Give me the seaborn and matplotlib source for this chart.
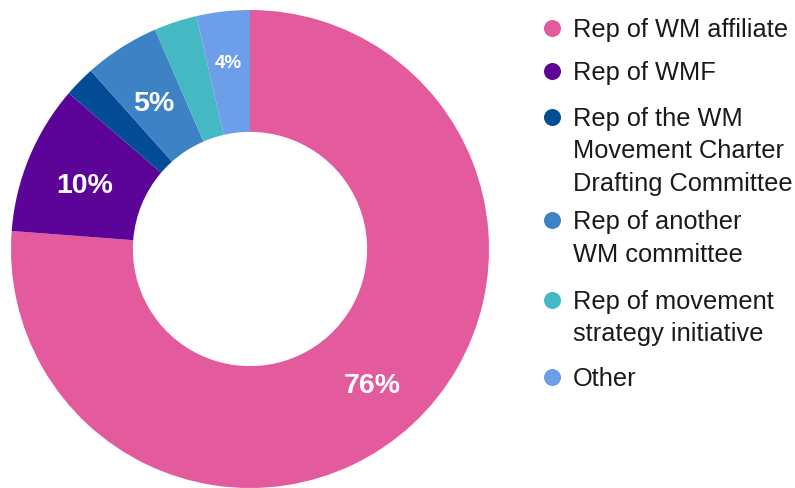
import numpy as np
import matplotlib
matplotlib.use("Agg")
import matplotlib.pyplot as plt
import seaborn as sns

categories = ["Rep of WM affiliate", "Rep of WMF",
              "Rep of the WM\nMovement Charter\nDrafting Committee",
              "Rep of another\nWM committee",
              "Rep of movement\nstrategy initiative", "Other"]
shares = [76.2, 10.1, 2.1, 5.1, 2.9, 3.6]
colors = ["#E35A9D", "#5B0497", "#034C96", "#3E82C6", "#44B9C3", "#6C9EE9"]

sns.set_theme(style="white")
plt.rcParams['font.family'] = ['Liberation Sans', 'DejaVu Sans']

fig = plt.figure(figsize=(7.95, 4.88), dpi=100)
W, H = 795, 488
cx, cy, R = 250, 249, 239
ax = fig.add_axes([(cx - R) / W, (H - cy - R) / H, 2 * R / W, 2 * R / H])

wedges, texts, autotexts = ax.pie(
    shares, colors=colors, startangle=90, counterclock=False,
    radius=1.0, wedgeprops=dict(width=0.51, linewidth=0),
    autopct=lambda p: f"{round(p)}%" if p >= 3.5 else "",
    pctdistance=0.75,
    textprops=dict(color="white", fontweight="bold", fontsize=20.5))
ax.set_xlim(-1, 1)
ax.set_ylim(-1, 1)
ax.set_aspect("equal")
for t in autotexts:
    t.set_va("center_baseline")
    x0, y0 = t.get_position()
    t.set_position((x0, y0 - 0.012))

# smaller "Other" label, pushed a bit outwards
small = autotexts[-1]
small.set_fontsize(13.5)
x0, y0 = small.get_position()
small.set_position((x0 * 1.07, y0 * 1.07))

# legend drawn by hand in pixel coordinates: dot + wrapped label
lax = fig.add_axes([0, 0, 1, 1])
lax.set_xlim(0, W)
lax.set_ylim(H, 0)
lax.axis("off")
row_y = [28, 71, 117, 220, 300, 377]
line_gap = 32.5
for cat, col, y in zip(categories, colors, row_y):
    lax.scatter([552], [y], s=150, color=col, linewidths=0)
    for i, line in enumerate(cat.split("\n")):
        lax.text(573, y + 9 + i * line_gap, line, ha="left", va="baseline",
                 fontsize=18.3, color="#1a1a1a")

fig.savefig("out.png", dpi=100)
